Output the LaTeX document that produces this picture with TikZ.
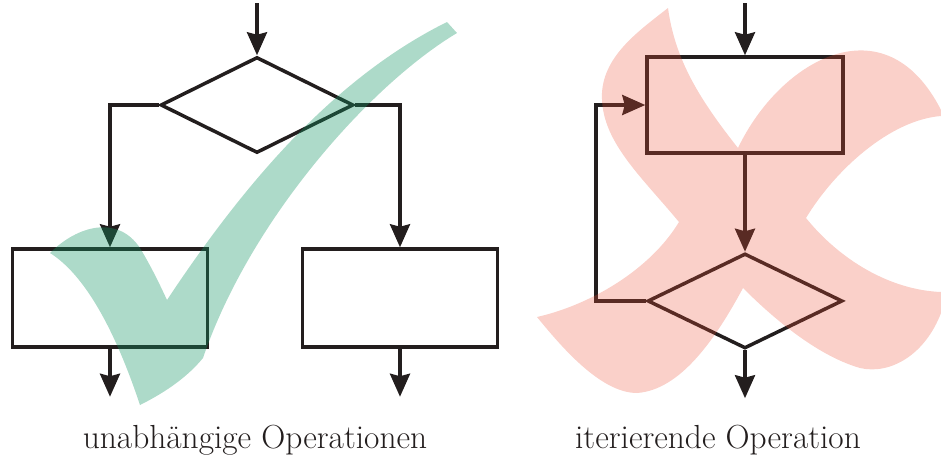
\documentclass[tikz,border=0pt]{standalone}
\usepackage{tikz}
\usetikzlibrary{shapes.geometric,arrows.meta,positioning}
\definecolor{flowline}{RGB}{35,30,30}
\definecolor{checkgreen}{RGB}{20,150,100}
\definecolor{crossred}{RGB}{235,80,55}

\begin{document}
\begin{tikzpicture}[
    x=0.02cm, y=-0.02cm,
    box/.style={rectangle, draw=flowline, line width=0.07cm,
                minimum width=3.9cm, minimum height=1.96cm, inner sep=0pt},
    decision/.style={diamond, draw=flowline, line width=0.07cm,
                minimum width=3.86cm, minimum height=1.92cm, inner sep=0pt},
    arrow/.style={-{Stealth[length=0.46cm, width=0.4cm, inset=0.05cm]},
                line width=0.07cm, flowline},
    caption/.style={font=\fontsize{19}{22}\selectfont, anchor=base, text=flowline},
    checkmark/.style={fill=checkgreen, fill opacity=0.35},
    crossmark/.style={fill=crossred, fill opacity=0.27}
  ]
  \useasboundingbox (0,0) rectangle (941,457);

  % branching: two independent operations
  \node[decision] (dec) at (257,105) {};
  \node[box] (opA) at (110,298) {};
  \node[box] (opB) at (400,298) {};
  \coordinate[above=1.04cm of dec.north] (inA);
  \coordinate[below=0.96cm of opA.south] (outA);
  \coordinate[below=0.96cm of opB.south] (outB);

  \draw[arrow] (inA) -- (dec.north);
  \draw[arrow] (dec.west) -| (opA.north);
  \draw[arrow] (dec.east) -| (opB.north);
  \draw[arrow] (opA.south) -- (outA);
  \draw[arrow] (opB.south) -- (outB);

  % loop: one iterated operation
  \node[box, minimum width=3.92cm, minimum height=1.92cm] (body) at (745,105) {};
  \node[decision, minimum width=3.9cm, minimum height=1.9cm, below=1.94cm of body] (cond) {};
  \coordinate[above=1.04cm of body.north] (inB);
  \coordinate[below=0.96cm of cond.south] (outC);
  \coordinate[left=1cm of cond.west] (back);

  \draw[arrow] (inB) -- (body.north);
  \draw[arrow] (body.south) -- (cond.north);
  \draw[arrow] (cond.west) -- (back) |- (body.west);
  \draw[arrow] (cond.south) -- (outC);

  \node[caption] (capA) at (255,448) {unabhängige Operationen};
  \node[caption] (capB) at (718,448) {iterierende Operation};

  % tick over the left chart
  \fill[checkmark] (50,253)
    .. controls (78,225) and (118,215) .. (140,248)
    .. controls (152,268) and (160,285) .. (167,300)
    .. controls (240,190) and (330,80) .. (447,22)
    -- (457,33)
    .. controls (370,85) and (250,220) .. (203,358)
    .. controls (185,380) and (160,395) .. (140,405)
    .. controls (115,330) and (85,275) .. (50,253) -- cycle;

  % cross over the right chart
  \fill[crossmark] (668,8)
    .. controls (675,60) and (700,100) .. (738,148)
    .. controls (780,60) and (885,0) .. (941,110)
    -- (941,116)
    .. controls (890,120) and (835,170) .. (806,218)
    .. controls (840,260) and (890,290) .. (941,292)
    -- (941,313)
    .. controls (925,355) and (890,375) .. (860,368)
    .. controls (815,355) and (770,315) .. (743,288)
    .. controls (715,340) and (680,390) .. (637,393)
    .. controls (600,393) and (560,345) .. (537,317)
    .. controls (590,305) and (650,270) .. (679,222)
    .. controls (640,175) and (600,140) .. (602,93)
    .. controls (604,55) and (640,30) .. (668,8) -- cycle;
\end{tikzpicture}
\end{document}
